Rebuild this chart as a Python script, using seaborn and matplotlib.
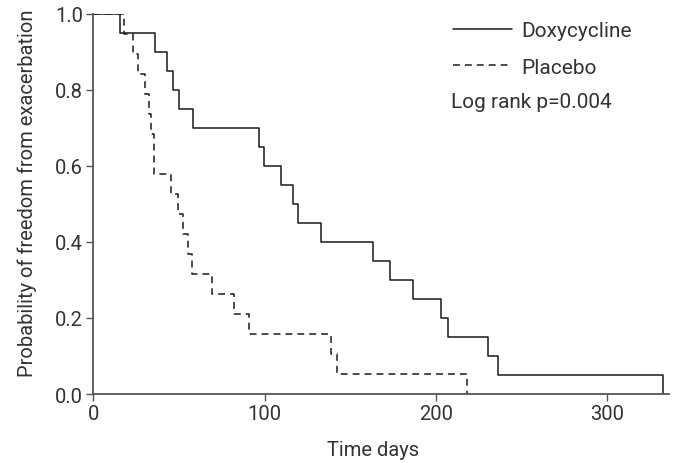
import matplotlib
matplotlib.use("Agg")
import matplotlib.pyplot as plt
import seaborn as sns
import pandas as pd

# Kaplan-Meier step data
doxy_time = [0, 15.6, 35.8, 42.7, 46.2, 50.1, 57.9, 96.8, 99.7, 109.6, 116.4,
             119.5, 133.0, 163.4, 173.0, 186.8, 202.7, 207.2, 230.4, 236.0, 332.5]
doxy_surv = [1.0, 0.95, 0.90, 0.85, 0.80, 0.75, 0.70, 0.65, 0.60, 0.55, 0.50,
             0.45, 0.40, 0.35, 0.30, 0.25, 0.20, 0.15, 0.10, 0.05, 0.0]

plac_time = [0, 18.1, 23.2, 26.1, 30.0, 32.4, 33.3, 35.3, 45.0, 49.5, 52.0,
             54.9, 57.8, 68.9, 82.1, 90.7, 138.5, 142.4, 217.9]
plac_surv = [1.0, 0.947, 0.895, 0.842, 0.789, 0.737, 0.684, 0.579, 0.526, 0.474,
             0.421, 0.368, 0.316, 0.263, 0.211, 0.158, 0.105, 0.053, 0.0]

groups = ["Doxycycline", "Placebo"]
x_ticks = [0, 100, 200, 300]
y_ticks = [0.0, 0.2, 0.4, 0.6, 0.8, 1.0]
p_text = "Log rank p=0.004"

df = pd.concat([
    pd.DataFrame({"time": doxy_time, "surv": doxy_surv, "group": groups[0]}),
    pd.DataFrame({"time": plac_time, "surv": plac_surv, "group": groups[1]}),
], ignore_index=True)

sns.set_style("ticks")
plt.rcParams["font.family"] = ["Roboto", "DejaVu Sans"]

fig = plt.figure(figsize=(6.75, 4.64), dpi=100)
ax = fig.add_axes([0.1385, 0.1487, 0.8526, 0.819])

line_col = "#1a1a1a"
sns.lineplot(data=df, x="time", y="surv", hue="group", style="group",
             hue_order=groups, style_order=groups,
             palette={groups[0]: line_col, groups[1]: line_col},
             dashes={groups[0]: "", groups[1]: (4.5, 3.3)},
             drawstyle="steps-post", estimator=None, sort=False,
             linewidth=1.1, legend=False, ax=ax)

ax.set_xlim(0, 336)
ax.set_ylim(0, 1.0)
ax.set_xticks(x_ticks)
ax.set_xticklabels([str(t) for t in x_ticks])
ax.set_yticks(y_ticks)
ax.set_yticklabels([f"{t:.1f}" for t in y_ticks])

spine_col = "#555555"
for s in ["left", "bottom"]:
    ax.spines[s].set_color(spine_col)
    ax.spines[s].set_linewidth(1.3)
for s in ["top", "right"]:
    ax.spines[s].set_visible(False)
ax.tick_params(axis="both", direction="out", length=5, width=1.0,
               color=spine_col, labelcolor="#333333", labelsize=14.5, pad=2.5)

ax.set_xlabel("Time days", fontsize=14.5, color="#333333")
ax.set_ylabel("Probability of freedom from exacerbation", fontsize=14.5,
              color="#333333")
ax.xaxis.set_label_coords(0.485, -0.121)
ax.yaxis.set_label_coords(-0.098, 0.532)

handles = ax.lines[:2]
leg = ax.legend(handles, groups, loc="upper left",
                bbox_to_anchor=(0.624, 0.982), frameon=False, fontsize=15,
                handlelength=2.84, handletextpad=0.45, labelspacing=0.85,
                borderaxespad=0, borderpad=0)
for t in leg.get_texts():
    t.set_color("#333333")

ax.text(0.622, 0.770, p_text, transform=ax.transAxes, fontsize=15,
        color="#333333", ha="left", va="center")

fig.savefig("out.png", dpi=100)
